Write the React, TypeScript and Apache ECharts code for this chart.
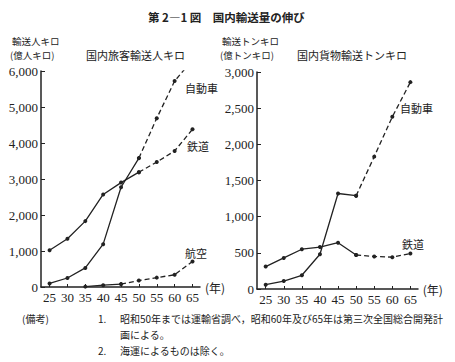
import React, { useEffect, useRef } from "react";
import * as echarts from "echarts";

const years = [25, 30, 35, 40, 45, 50, 55, 60, 65];
// 国内旅客輸送人キロ (億人キロ)
const passengerRail = [1020, 1340, 1830, 2570, 2900, 3190, 3470, 3780, 4380];
const passengerAuto = [100, 250, 530, 1190, 2770, 3580, 4690, 5720, 6310];
const passengerAir = [null, null, 10, 50, 80, 180, 260, 340, 710];
// 国内貨物輸送トンキロ (億トンキロ)
const freightRail = [310, 430, 550, 580, 640, 470, 450, 440, 490];
const freightAuto = [60, 110, 190, 480, 1320, 1290, 1830, 2380, 2860];

const leftTicks = [0, 1000, 2000, 3000, 4000, 5000, 6000];
const rightTicks = [0, 500, 1000, 1500, 2000, 2500, 3000];

const JP = "'Noto Sans CJK JP', 'Noto Sans', sans-serif";
const SERIF = "'Liberation Serif', 'DejaVu Serif', serif";
const INK = "#222";

function pts(vals: (number | null)[], from: number, to: number) {
  return years
    .map((y, i) => [y, vals[i]])
    .slice(from, to + 1)
    .filter((p) => p[1] != null);
}

function line(vals: (number | null)[], from: number, to: number, dashed: boolean, axis: number) {
  return {
    type: "line",
    xAxisIndex: axis,
    yAxisIndex: axis,
    data: pts(vals, from, to),
    symbol: "circle",
    symbolSize: 4,
    itemStyle: { color: INK },
    lineStyle: { color: INK, width: 1.3, type: dashed ? [5, 3] : "solid" },
    silent: true,
  };
}

function txt(text: string, x: number, y: number, size = 12, weight = "normal") {
  return {
    type: "text",
    x,
    y,
    style: {
      text,
      fill: INK,
      font: `${weight} ${size}px ${JP}`,
      textVerticalAlign: "middle",
      lineHeight: size,
    },
  };
}

function xAxis(gridIndex: number) {
  return {
    type: "value",
    gridIndex,
    min: 22.6,
    max: 67.1,
    axisLine: { show: true, lineStyle: { color: INK, width: 1.5 } },
    axisTick: { show: true, inside: true, length: 3, customValues: years, lineStyle: { color: INK } },
    axisLabel: { customValues: years, fontFamily: SERIF, fontSize: 13, color: INK, margin: 4 },
    splitLine: { show: false },
    name: "(年)",
    nameLocation: "end",
    nameGap: 3,
    nameTextStyle: { fontFamily: JP, fontSize: 12, color: INK, verticalAlign: "middle" },
  };
}

function yAxis(gridIndex: number, ticks: number[]) {
  return {
    type: "value",
    gridIndex,
    min: ticks[0],
    max: ticks[ticks.length - 1],
    interval: ticks[1] - ticks[0],
    axisLine: { show: true, lineStyle: { color: INK, width: 1.5 } },
    axisTick: { show: true, inside: true, length: 4, lineStyle: { color: INK } },
    axisLabel: {
      fontFamily: SERIF,
      fontSize: 13,
      color: INK,
      margin: 3,
      formatter: (v: number) => v.toLocaleString("en-US"),
    },
    splitLine: { show: false },
  };
}

export default function App() {
  const ref = useRef<HTMLDivElement>(null);
  useEffect(() => {
    const chart = echarts.init(ref.current!, null, { renderer: "svg" });
    chart.setOption({
      animation: false,
      backgroundColor: "#fff",
      grid: [
        { left: 41, top: 71, width: 159, height: 216 },
        { left: 257, top: 72, width: 161, height: 217 },
      ],
      xAxis: [xAxis(0), xAxis(1)],
      yAxis: [yAxis(0, leftTicks), yAxis(1, rightTicks)],
      series: [
        line(passengerRail, 0, 5, false, 0),
        line(passengerRail, 5, 8, true, 0),
        line(passengerAuto, 0, 5, false, 0),
        line(passengerAuto, 5, 8, true, 0),
        line(passengerAir, 0, 4, false, 0),
        line(passengerAir, 4, 8, true, 0),
        line(freightRail, 0, 5, false, 1),
        line(freightRail, 5, 8, true, 1),
        line(freightAuto, 0, 5, false, 1),
        line(freightAuto, 5, 8, true, 1),
      ],
      graphic: [
        txt("第 2―1 図　国内輸送量の伸び", 148, 17, 11.5, "bold"),
        txt("輸送人キロ", 12, 41, 9.5),
        txt("(億人キロ)", 10, 55, 9.5),
        txt("国内旅客輸送人キロ", 86, 55, 11),
        txt("輸送トンキロ", 222, 41, 9.5),
        txt("(億トンキロ)", 220, 55, 9.5),
        txt("国内貨物輸送トンキロ", 297, 55, 11),
        txt("自動車", 185, 88, 11),
        txt("鉄道", 187, 146, 11),
        txt("航空", 185, 253, 11),
        txt("自動車", 400, 108, 11),
        txt("鉄道", 402, 244, 11),
        txt("(備考)", 22, 318, 10),
        txt("1.", 98, 318, 10),
        txt("昭和50年までは運輸省調べ，昭和60年及び65年は第三次全国総合開発計", 120, 318, 10),
        txt("画による。", 120, 334, 10),
        txt("2.", 98, 350, 10),
        txt("海運によるものは除く。", 120, 350, 10),
      ],
    });
    return () => chart.dispose();
  }, []);
  return (
    <div
      ref={ref}
      style={{ position: "fixed", left: 0, top: 0, width: 455, height: 362, background: "#fff" }}
    />
  );
}
